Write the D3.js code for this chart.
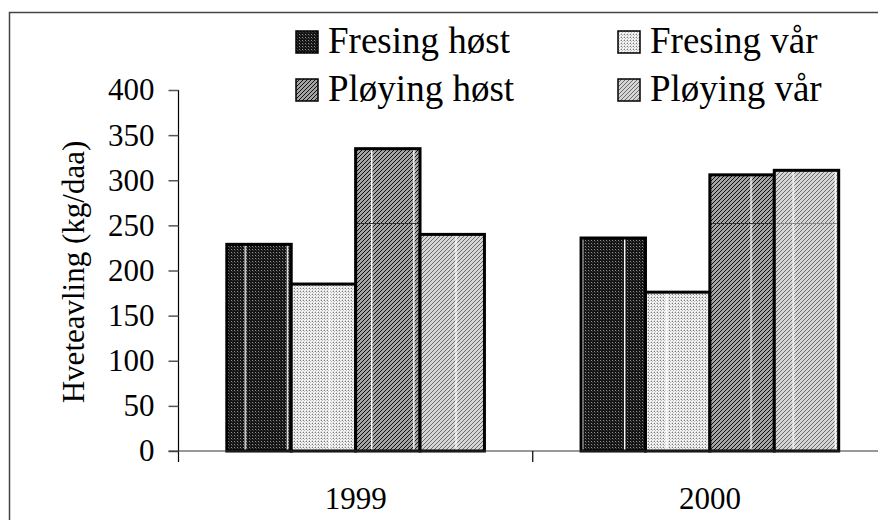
<!DOCTYPE html>
<html>
<head>
<meta charset="utf-8">
<script src="https://cdn.jsdelivr.net/npm/d3@7/dist/d3.min.js"></script>
<style>
  body { margin: 0; background: #fff; }
  svg text { font-family: "Liberation Serif", "Times New Roman", Times, serif !important; fill: #000; }
</style>
</head>
<body>
<div id="chartDiv"></div>
<script>
// data
const years = ["1999", "2000"];
const series = ["Fresing høst", "Fresing vår", "Pløying høst", "Pløying vår"];
const fresingHost = [229, 236];
const fresingVaar = [185, 176];
const ployingHost = [335, 306];
const ployingVaar = [240, 311];
const yTicks = [0, 50, 100, 150, 200, 250, 300, 350, 400];
const yTitle = "Hveteavling (kg/daa)";

const values = [fresingHost, fresingVaar, ployingHost, ployingVaar];

var drawChart = function(){
	const canvasW = 878, canvasH = 520;
	const svg = d3.select('#chartDiv')
		.append('svg')
		.attr('width', canvasW)
		.attr('height', canvasH);

	const defs = svg.append('defs');

	// textures (pixel tiles, user space so they line up)
	function tile(id, size, bg, dots){
		const p = defs.append('pattern')
			.attr('id', id)
			.attr('patternUnits', 'userSpaceOnUse')
			.attr('width', size).attr('height', size);
		p.append('rect').attr('width', size).attr('height', size).attr('fill', bg);
		dots.forEach(d => {
			p.append('rect').attr('x', d[0]).attr('y', d[1])
				.attr('width', 1).attr('height', 1).attr('fill', d[2]);
		});
	}
	tile('pFH', 3, '#141414', [[0, 0, '#909090'], [1, 1, '#404040']]);
	tile('pFV', 3, '#f4f4f4', [[0, 0, '#7a7a7a'], [1, 1, '#b8b8b8'], [2, 0, '#d0d0d0'], [0, 2, '#d0d0d0']]);
	tile('pPH', 4, '#a4a4a4', [[3, 0, '#101010'], [2, 1, '#101010'], [1, 2, '#101010'], [0, 3, '#101010']]);
	tile('pPV', 4, '#d6d6d6', [[3, 0, '#6a6a6a'], [2, 1, '#6a6a6a'], [1, 2, '#6a6a6a'], [0, 3, '#6a6a6a']]);
	const fills = ['url(#pFH)', 'url(#pFV)', 'url(#pPH)', 'url(#pPV)'];

	// seams of the fill tiles
	const seamV = defs.append('pattern')
		.attr('id', 'seamV')
		.attr('patternUnits', 'userSpaceOnUse')
		.attr('x', 244.6).attr('width', 42.15).attr('height', 10);
	seamV.append('rect').attr('width', 1.4).attr('height', 10).attr('fill', '#fff');
	const seamH = [null, null, '#333', '#888'];

	// frame
	svg.append('rect')
		.attr('x', 9.5).attr('y', 12.5)
		.attr('width', 1000).attr('height', 1000)
		.attr('fill', 'none')
		.attr('stroke', '#444')
		.attr('stroke-width', 1.5);

	// scales
	const axisX = 178.5, axisY = 451;
	const bandW = 354.25;
	const x0 = d3.scaleBand().domain(years).range([axisX, axisX + bandW * years.length]);
	const barW = bandW / 5.5;
	const x1 = d3.scaleBand().domain(series).range([barW * 0.75, bandW - barW * 0.75]);
	const y = d3.scaleLinear().domain([0, 400]).range([axisY, 90]);

	// bars
	const rows = [];
	years.forEach((yr, i) => {
		series.forEach((s, j) => rows.push({year: yr, s: s, j: j, v: values[j][i]}));
	});

	const bars = svg.append('g');
	const g = bars.selectAll('g.bar').data(rows).enter().append('g').attr('class', 'bar');
	const bx = d => x0(d.year) + x1(d.s);
	g.append('rect')
		.attr('x', bx).attr('y', d => y(d.v))
		.attr('width', x1.bandwidth()).attr('height', d => axisY - y(d.v))
		.attr('fill', d => fills[d.j]);
	g.append('rect')
		.attr('x', bx).attr('y', d => y(d.v))
		.attr('width', x1.bandwidth()).attr('height', d => axisY - y(d.v))
		.attr('fill', 'url(#seamV)');
	g.filter(d => seamH[d.j] && y(d.v) < 223)
		.append('line')
		.attr('x1', bx).attr('x2', d => bx(d) + x1.bandwidth())
		.attr('y1', 223.5).attr('y2', 223.5)
		.attr('stroke', d => seamH[d.j]).attr('stroke-width', 1);
	g.append('rect')
		.attr('x', bx).attr('y', d => y(d.v))
		.attr('width', x1.bandwidth()).attr('height', d => axisY - y(d.v))
		.attr('fill', 'none')
		.attr('stroke', '#000')
		.attr('stroke-width', 3);

	// y axis
	const yAxis = d3.axisLeft(y).tickValues(yTicks).tickSize(10).tickPadding(14);
	const yG = svg.append('g').attr('transform', `translate(${axisX},0)`).call(yAxis)
		.attr('font-family', null);
	yG.select('.domain').attr('stroke', '#000').attr('stroke-width', 1.2)
		.attr('d', `M0,${y(400)}V${axisY + 11}`);
	yG.selectAll('.tick line').attr('stroke', '#555').attr('stroke-width', 1.5);
	yG.selectAll('text').attr('font-size', 31).attr('fill', '#000');

	// x axis
	const xAxis = d3.axisBottom(x0).tickSize(0).tickPadding(36);
	const xG = svg.append('g').attr('transform', `translate(0,${axisY})`).call(xAxis)
		.attr('font-family', null);
	xG.select('.domain').attr('stroke', '#333').attr('stroke-width', 1.2)
		.attr('d', `M${axisX - 10},0H${canvasW + 20}`);
	xG.selectAll('text').attr('font-size', 31).attr('fill', '#000');
	xG.selectAll('line.sep').data(years.slice(1)).enter().append('line')
		.attr('class', 'sep')
		.attr('x1', d => x0(d)).attr('x2', d => x0(d))
		.attr('y1', 0).attr('y2', 11)
		.attr('stroke', '#000').attr('stroke-width', 1.2);

	// y title
	svg.append('text')
		.attr('transform', `translate(84,272) rotate(-90)`)
		.attr('text-anchor', 'middle')
		.attr('font-size', 31)
		.text(yTitle);

	// legend
	const legX = [296, 618], legY = [31, 79];
	const leg = svg.append('g').selectAll('g').data(series).enter().append('g')
		.attr('transform', (d, i) => `translate(${legX[i % 2]},${legY[Math.floor(i / 2)]})`);
	leg.append('rect')
		.attr('width', 22).attr('height', 22)
		.attr('fill', (d, i) => fills[i])
		.attr('stroke', '#000').attr('stroke-width', 1.5);
	leg.append('text')
		.attr('x', 32).attr('y', 22)
		.attr('font-size', 37)
		.text(d => d);
};

drawChart();
</script>
</body>
</html>
